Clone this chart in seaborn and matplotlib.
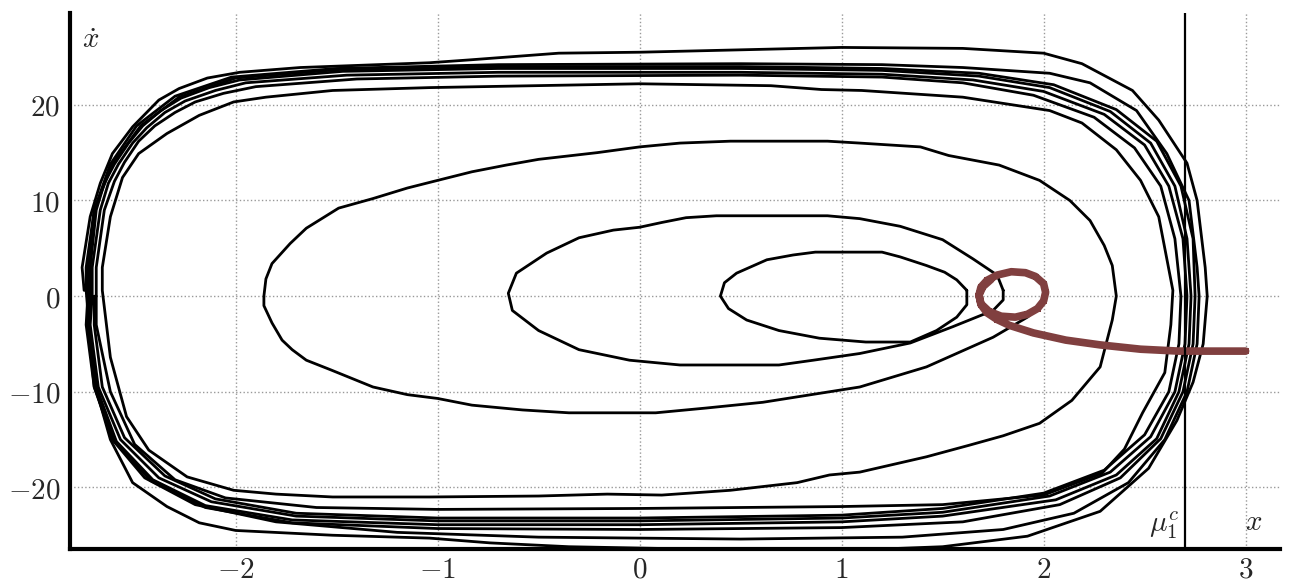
"""
Phase portrait: trajectories spiralling out to the limit cycle,
plus the (red) trajectory falling onto the small focus near x~1.85.
"""
import numpy as np
import matplotlib
matplotlib.use("Agg")
import matplotlib.pyplot as plt
import seaborn as sns

# ── data, (x, xdot) pairs ─────────────────────────────────
small_loop = [
    (1.62, 0.6), (1.62, -0.9), (1.57, -2.2), (1.47, -3.6), (1.34, -4.8), (1.12, -4.8),
    (0.89, -4.4), (0.69, -3.6), (0.53, -2.5), (0.44, -1.3), (0.40, 0.0), (0.42, 1.4),
    (0.48, 2.4), (0.63, 3.8), (0.76, 4.3), (0.87, 4.6), (1.20, 4.6), (1.29, 4.1),
    (1.42, 3.2), (1.51, 2.5), (1.57, 1.7), (1.62, 0.6),
]

mid_loop = [
    (1.80, 0.6), (1.80, -0.4), (1.75, -1.5), (1.55, -3.2), (1.34, -4.9), (1.09, -6.0),
    (0.86, -6.7), (0.69, -7.2), (0.20, -7.2), (-0.05, -6.7), (-0.30, -5.6), (-0.50, -3.6),
    (-0.63, -1.5), (-0.65, 0.3), (-0.61, 2.4), (-0.46, 4.5), (-0.30, 6.1), (-0.13, 6.9),
    (0.00, 7.2), (0.11, 7.7), (0.23, 8.2), (0.38, 8.4), (0.93, 8.4), (1.09, 8.1),
    (1.29, 7.3), (1.50, 5.9), (1.65, 3.9), (1.77, 2.2), (1.80, 0.6),
]

large_path = [
    (2.01, 0.0), (2.00, -0.7), (1.92, -2.2), (1.75, -4.3), (1.42, -7.4), (1.09, -9.5),
    (0.61, -11.1), (0.33, -11.7), (0.08, -12.2), (-0.35, -12.2), (-0.58, -11.9),
    (-0.83, -11.4), (-1.00, -10.7), (-1.15, -10.3), (-1.32, -9.5), (-1.53, -7.7),
    (-1.65, -6.7), (-1.72, -5.6), (-1.77, -4.6), (-1.82, -2.8), (-1.86, -1.0), (-1.86, 0.0),
    (-1.85, 1.8), (-1.82, 3.4), (-1.73, 5.5), (-1.65, 7.1), (-1.49, 9.2), (-1.32, 10.2),
    (-1.15, 11.3), (-1.00, 12.1), (-0.83, 13.0), (-0.66, 13.7), (-0.50, 14.3), (-0.21, 15.0),
    (0.00, 15.6), (0.20, 16.0), (0.45, 16.2), (0.93, 16.2), (1.09, 16.0), (1.39, 15.6),
    (1.53, 14.7), (1.78, 13.7), (1.98, 12.1), (2.13, 10.0), (2.23, 7.9), (2.30, 5.3),
    (2.34, 3.2), (2.36, 0.0), (2.34, -2.5), (2.28, -7.4), (2.14, -10.9), (1.98, -13.3),
    (1.80, -14.6), (1.63, -15.6), (1.42, -16.8), (1.09, -18.4), (0.94, -18.7),
    (0.78, -19.5), (0.45, -20.3), (0.11, -20.8), (-0.16, -20.7), (-0.50, -20.9),
    (-1.04, -21.0), (-1.52, -21.0), (-1.80, -20.7), (-2.01, -20.3), (-2.24, -18.9),
    (-2.43, -16.1), (-2.54, -12.6), (-2.62, -6.4), (-2.66, 0.6), (-2.66, 3.0), (-2.62, 8.3),
    (-2.56, 12.4), (-2.48, 14.9), (-2.34, 17.0), (-2.18, 18.9), (-2.01, 20.3),
    (-1.85, 20.8), (-1.52, 21.5), (-1.04, 21.8), (0.00, 22.2), (0.65, 22.0),
    (0.90, 21.6), (1.10, 21.5), (1.60, 20.8), (2.03, 19.4), (2.19, 18.1), (2.36, 15.3),
    (2.48, 12.1), (2.57, 8.3), (2.64, 0.6), (2.63, -3.0), (2.60, -8.0), (2.49, -12.2),
    (2.40, -16.0), (2.29, -18.5), (2.00, -20.8), (1.50, -21.8), (1.00, -22.0),
    (0.00, -22.2), (-1.00, -22.3), (-1.60, -22.1), (-2.05, -21.1), (-2.30, -19.2),
    (-2.50, -15.5), (-2.62, -10.0), (-2.69, -3.0), (-2.69, 0.0),
]

cycle_1 = [
    (-2.69, 0.0), (-2.69, 3.0), (-2.65, 9.0), (-2.60, 12.0), (-2.55, 14.0), (-2.48, 16.2),
    (-2.40, 17.8), (-2.30, 19.2), (-2.20, 20.3), (-2.06, 21.2), (-1.90, 21.9), (-1.40, 22.7),
    (-0.70, 23.0), (0.50, 23.1), (1.20, 22.9), (1.60, 22.3), (1.95, 21.0), (2.25, 18.7),
    (2.45, 15.5), (2.58, 11.5), (2.65, 6.0), (2.68, 0.0), (2.67, -5.0), (2.62, -10.0),
    (2.50, -14.5), (2.30, -18.2), (2.00, -20.6), (1.50, -22.2), (1.00, -22.9),
    (0.00, -23.2), (-1.00, -23.2), (-1.70, -22.7), (-2.10, -21.2), (-2.35, -18.8),
    (-2.55, -14.8), (-2.66, -9.5), (-2.70, -3.0), (-2.70, 0.0),
]

cycle_2 = [
    (-2.71, 0.0), (-2.71, 3.0), (-2.67, 9.0), (-2.63, 11.8), (-2.58, 13.8), (-2.51, 16.0),
    (-2.44, 17.6), (-2.35, 19.2), (-2.25, 20.4), (-2.10, 21.5), (-1.95, 22.3), (-1.45, 23.1),
    (-0.70, 23.4), (0.50, 23.4), (1.20, 23.2), (1.65, 22.6), (2.00, 21.4), (2.30, 19.0),
    (2.50, 15.8), (2.62, 11.5), (2.69, 6.0), (2.71, 0.0), (2.70, -5.0), (2.65, -10.0),
    (2.53, -14.7), (2.33, -18.4), (2.03, -20.9), (1.50, -22.6), (1.00, -23.2),
    (0.00, -23.5), (-1.00, -23.5), (-1.70, -23.0), (-2.12, -21.5), (-2.38, -19.0),
    (-2.57, -15.0), (-2.68, -9.5), (-2.72, -3.0), (-2.71, 0.0),
]

cycle_3 = [
    (-2.72, 0.0), (-2.72, 3.0), (-2.69, 9.0), (-2.65, 11.8), (-2.60, 13.8), (-2.53, 16.0),
    (-2.46, 17.8), (-2.37, 19.4), (-2.27, 20.7), (-2.13, 21.8), (-1.98, 22.6), (-1.47, 23.5),
    (-0.70, 23.8), (0.50, 23.8), (1.20, 23.6), (1.68, 23.0), (2.03, 21.8), (2.33, 19.3),
    (2.53, 16.0), (2.65, 11.5), (2.71, 6.0), (2.73, 0.0), (2.72, -5.0), (2.67, -10.0),
    (2.56, -14.9), (2.36, -18.7), (2.06, -21.3), (1.50, -23.0), (1.00, -23.6),
    (0.00, -23.9), (-1.00, -23.9), (-1.72, -23.4), (-2.15, -21.9), (-2.41, -19.2),
    (-2.59, -15.2), (-2.69, -9.5), (-2.73, -3.0), (-2.72, 0.0),
]

outer_1 = [
    (-2.75, 0.6), (-2.76, 3.0), (-2.72, 8.3), (-2.67, 11.8), (-2.61, 14.9), (-2.51, 17.7),
    (-2.38, 20.5), (-2.28, 21.7), (-2.14, 22.8), (-1.98, 23.4), (-1.68, 23.9), (-1.04, 24.4),
    (-0.84, 24.7), (-0.40, 25.4), (0.00, 25.5), (0.60, 25.8), (1.00, 26.0), (1.60, 25.9),
    (2.00, 25.4), (2.19, 24.3), (2.44, 21.5), (2.57, 18.4), (2.71, 13.9), (2.76, 10.0),
    (2.80, 3.0), (2.81, 0.0), (2.79, -5.0), (2.74, -9.0), (2.66, -13.0), (2.52, -18.0),
    (2.28, -22.5), (1.92, -25.1), (1.50, -26.2), (1.00, -26.6), (0.40, -26.5),
    (-0.35, -26.2), (-0.74, -25.8), (-1.04, -25.3), (-1.52, -25.0), (-2.00, -24.5),
    (-2.18, -23.7), (-2.34, -22.0), (-2.51, -19.5), (-2.62, -15.0), (-2.69, -9.8),
    (-2.72, -4.6), (-2.74, 0.6),
]

outer_2 = [
    (-2.74, 0.6), (-2.74, 3.0), (-2.70, 9.0), (-2.62, 13.8), (-2.49, 17.8), (-2.30, 20.9),
    (-2.02, 22.9), (-1.50, 23.8), (-0.70, 24.2), (0.50, 24.3), (1.20, 24.2), (1.60, 23.9),
    (2.03, 23.3), (2.23, 22.3), (2.46, 19.4), (2.61, 14.9), (2.72, 10.0), (2.76, 3.0),
    (2.77, 0.0), (2.76, -5.0), (2.71, -10.0), (2.60, -15.0), (2.42, -19.5), (2.15, -22.7),
    (1.80, -24.4), (1.30, -25.2), (0.50, -25.4), (-0.50, -25.2), (-1.20, -24.7),
    (-1.80, -23.6), (-2.20, -21.8), (-2.45, -19.0), (-2.61, -15.0), (-2.70, -9.5),
    (-2.74, -3.0), (-2.73, 0.6),
]

outer_3 = [
    (-2.73, 0.6), (-2.73, 3.0), (-2.70, 9.0), (-2.61, 13.8), (-2.47, 17.8), (-2.28, 20.8),
    (-2.00, 22.8), (-1.48, 23.7), (-0.70, 24.0), (0.50, 24.0), (1.20, 23.8), (1.68, 23.3),
    (2.05, 22.1), (2.36, 19.5), (2.56, 16.2), (2.68, 11.5), (2.74, 6.0), (2.75, 0.0),
    (2.74, -5.0), (2.69, -10.0), (2.58, -14.9), (2.38, -19.0), (2.08, -21.8), (1.60, -23.6),
    (1.00, -24.2), (0.00, -24.4), (-1.00, -24.3), (-1.72, -23.7), (-2.15, -22.1),
    (-2.42, -19.3), (-2.60, -15.2), (-2.70, -9.5), (-2.73, -3.0), (-2.72, 0.6),
]

red_path = [
    (3.00, -5.75), (2.67, -5.75), (2.48, -5.55), (2.28, -5.10), (2.11, -4.60), (1.95, -3.85),
    (1.83, -3.05), (1.77, -2.45), (1.72, -1.75), (1.69, -0.90), (1.68, 0.10), (1.69, 0.95),
    (1.72, 1.65), (1.77, 2.20), (1.84, 2.55), (1.91, 2.45), (1.96, 2.05), (2.00, 1.30),
    (2.01, 0.40), (2.00, -0.50), (1.97, -1.30), (1.92, -1.90), (1.86, -2.20), (1.79, -2.10),
    (1.73, -1.60), (1.69, -0.80), (1.68, 0.10), (1.70, 1.00), (1.74, 1.75),
]

mu1c = 2.70
x_ticks = [-2, -1, 0, 1, 2, 3]
y_ticks = [-20, -10, 0, 10, 20]

black_paths = [small_loop, mid_loop, large_path, cycle_1, cycle_2, cycle_3,
               outer_1, outer_2, outer_3]

# ── style ─────────────────────────────────────────────
sns.set_style("white")
plt.rcParams["mathtext.fontset"] = "cm"
plt.rcParams["font.family"] = ["DejaVu Serif"]

fig = plt.figure(figsize=(12.96, 5.83), dpi=100)
ax = fig.add_axes([0.054, 0.0583, 0.9336, 0.9194])

for path in black_paths:
    xy = np.array(path)
    sns.lineplot(x=xy[:, 0], y=xy[:, 1], sort=False, estimator=None,
                 color="black", lw=2.0, ax=ax, zorder=3)

red = np.array(red_path)
sns.lineplot(x=red[:, 0], y=red[:, 1], sort=False, estimator=None,
             color="#803f3f", lw=5.5, marker="s", markersize=5, markeredgewidth=0,
             ax=ax, zorder=4)

ax.axvline(mu1c, color="black", lw=1.6, zorder=5)

ax.set_xlim(-2.82, 3.17)
ax.set_ylim(-26.44, 29.6)
ax.set_xticks(x_ticks)
ax.set_xticklabels([f"${t}$" for t in x_ticks])
ax.set_yticks(y_ticks)
ax.set_yticklabels([f"${t}$" for t in y_ticks])
ax.tick_params(length=0, labelsize=21)
ax.tick_params(axis="x", pad=5)
ax.tick_params(axis="y", pad=7)

ax.grid(True, ls=":", color="#999999", lw=1.0)
ax.set_axisbelow(True)
for side in ["top", "right"]:
    ax.spines[side].set_visible(False)
for side in ["left", "bottom"]:
    ax.spines[side].set_linewidth(3)
    ax.spines[side].set_color("black")

ax.text(-2.76, 26.8, r"$\dot{x}$", fontsize=21, ha="left", va="center")
ax.text(2.67, -23.9, r"$\mu_1^c$", fontsize=21, ha="right", va="center")
ax.text(3.04, -23.6, r"$x$", fontsize=21, ha="center", va="center")

fig.savefig("out.png", dpi=100)
plt.close(fig)
